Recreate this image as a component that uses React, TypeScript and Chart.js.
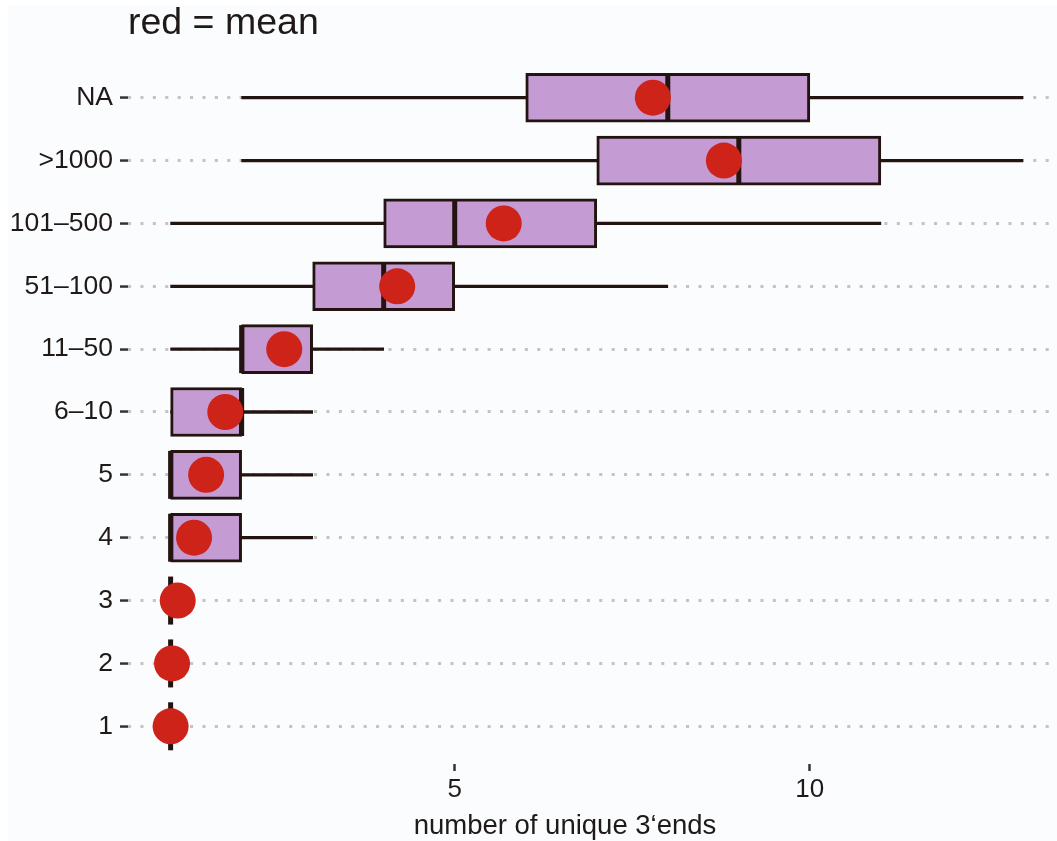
import React, { useEffect, useRef } from 'react';
import { Chart, registerables } from 'chart.js';

Chart.register(...registerables);

// ---- data (bottom to top) ----
const categories = ['1', '2', '3', '4', '5', '6–10', '11–50', '51–100', '101–500', '>1000', 'NA'];
const whiskerLow = [1, 1, 1, 1, 1, 1, 1, 1, 1, 2, 2];
const q1 = [1, 1, 1, 1, 1, 1, 2, 3, 4, 7, 6];
const medians = [1, 1, 1, 1, 1, 2, 2, 4, 5, 9, 8];
const q3 = [1, 1, 1, 2, 2, 2, 3, 5, 7, 11, 10];
const whiskerHigh = [1, 1, 1, 3, 3, 3, 4, 8, 11, 13, 13];
const means = [1.0, 1.02, 1.1, 1.33, 1.5, 1.77, 2.6, 4.19, 5.69, 8.79, 7.79];
const xTicks = [5, 10];
const titleText = 'red = mean';
const xTitleText = 'number of unique 3‘ends';

// ---- styles ----
const FONT = '"Liberation Sans", Arial, sans-serif';
const TEXT = '#1f1a18';
const DARK = '#241411';
const FILL = '#c49bd3';
const RED = '#cd2319';
const GRID = '#c4c4c4';
const BG = '#fafcfe';

const W = 1049;
const H = 836;

export default function App() {
  const ref = useRef<HTMLCanvasElement | null>(null);

  useEffect(() => {
    if (!ref.current) return;
    const pos = (i: number) => i + 1;

    const bgPlugin = {
      id: 'bg',
      beforeDraw(chart: any) {
        const ctx = chart.ctx;
        ctx.save();
        ctx.fillStyle = BG;
        ctx.fillRect(0, 0, chart.width, chart.height);
        ctx.restore();
      },
    };

    const xTitlePlugin = {
      id: 'xTitle',
      afterDraw(chart: any) {
        const ctx = chart.ctx;
        ctx.save();
        ctx.font = `27.5px ${FONT}`;
        ctx.fillStyle = TEXT;
        ctx.textAlign = 'center';
        ctx.textBaseline = 'alphabetic';
        ctx.fillText(xTitleText, chart.chartArea.left + 437, chart.height - 7);
        ctx.restore();
      },
    };

    const chart = new Chart(ref.current, {
      type: 'bar',
      data: {
        datasets: [
          {
            type: 'line',
            label: 'mean',
            data: means.map((m, i) => ({ x: m, y: pos(i) })),
            showLine: false,
            pointStyle: 'circle',
            pointRadius: 18,
            pointHoverRadius: 18,
            pointBackgroundColor: RED,
            pointBorderWidth: 0,
            order: 0,
          } as any,
          {
            type: 'line',
            label: 'median',
            data: medians.map((m, i) => ({ x: m, y: pos(i) })),
            showLine: false,
            pointStyle: 'line',
            pointRotation: 90,
            pointRadius: 24,
            pointHoverRadius: 24,
            pointBorderWidth: 5,
            pointBorderColor: DARK,
            order: 1,
          } as any,
          {
            type: 'bar',
            label: 'box',
            data: q1.map((a, i) => ({ x: [a, q3[i]], y: pos(i) })),
            backgroundColor: FILL,
            borderColor: DARK,
            borderWidth: 3,
            borderSkipped: false,
            barThickness: 49,
            grouped: false,
            order: 2,
          } as any,
          {
            type: 'bar',
            label: 'whisker',
            data: whiskerLow.map((a, i) => ({ x: [a, whiskerHigh[i]], y: pos(i) })),
            backgroundColor: DARK,
            borderWidth: 0,
            barThickness: 2.6,
            grouped: false,
            order: 3,
          } as any,
        ],
      },
      options: {
        indexAxis: 'y',
        responsive: false,
        animation: false,
        events: [],
        layout: { padding: 0, autoPadding: false },
        plugins: {
          legend: { display: false },
          tooltip: { enabled: false },
          title: {
            display: true,
            text: titleText,
            align: 'start',
            fullSize: false,
            color: TEXT,
            font: { family: FONT, size: 37.5, weight: 'normal', lineHeight: 1 },
            padding: { top: 0, bottom: 17.5 },
          },
        },
        scales: {
          x: {
            type: 'linear',
            position: 'bottom',
            min: 0.4,
            max: 13.48,
            afterBuildTicks: (s: any) => {
              s.ticks = xTicks.map((v) => ({ value: v }));
            },
            afterFit: (s: any) => {
              s.height = 77;
            },
            grid: {
              drawOnChartArea: false,
              drawTicks: true,
              tickLength: 7,
              tickColor: '#333333',
              tickWidth: 2.5,
            },
            border: { display: false },
            ticks: {
              color: TEXT,
              font: { family: FONT, size: 26 },
              padding: 3,
              maxRotation: 0,
              autoSkip: false,
            },
          },
          y: {
            type: 'linear',
            min: 0.4,
            max: 11.6,
            offset: false,
            afterBuildTicks: (s: any) => {
              s.ticks = categories.map((_, i) => ({ value: pos(i) }));
            },
            afterFit: (s: any) => {
              s.width = 120;
            },
            grid: {
              offset: false,
              color: GRID,
              lineWidth: 3.1,
              drawTicks: true,
              tickLength: 8,
              tickColor: '#333333',
              tickWidth: 2.5,
              tickBorderDash: [],
            },
            border: { display: false, dash: [3.1, 9.3] },
            ticks: {
              color: TEXT,
              font: { family: FONT, size: 26.5 },
              padding: 7,
              autoSkip: false,
              callback: (v: any) => categories[Math.round(Number(v)) - 1] ?? '',
            },
          },
        },
      } as any,
      plugins: [bgPlugin, xTitlePlugin],
    });

    return () => chart.destroy();
  }, []);

  return (
    <div style={{ position: 'fixed', left: 8, top: 5, width: W, height: H }}>
      <canvas ref={ref} width={W} height={H} style={{ display: 'block' }} />
    </div>
  );
}
